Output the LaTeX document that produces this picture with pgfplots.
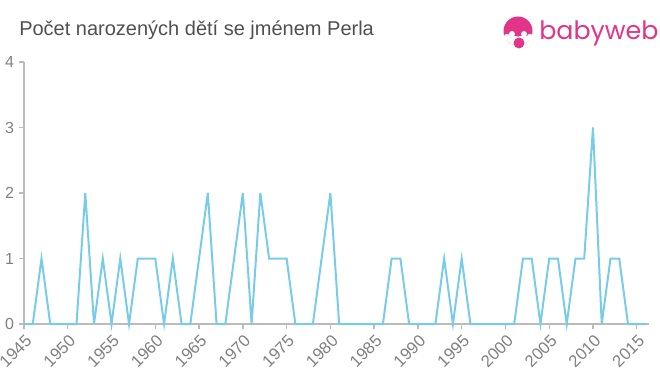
\documentclass[border=0pt]{standalone}
\usepackage{pgfplots}
\pgfplotsset{compat=1.18}
\usepackage{fontspec}
\setmainfont{Liberation Sans}
\newfontfamily\logofont{Poppins}
\definecolor{linec}{RGB}{120,204,234}
\definecolor{axc}{RGB}{187,187,187}
\definecolor{labc}{RGB}{128,128,128}
\definecolor{titc}{RGB}{80,80,80}
\definecolor{pinkc}{RGB}{226,52,136}
\begin{document}
\begin{tikzpicture}
\begin{scope}[x=0.75pt,y=0.75pt]
\node[anchor=west, text=titc, font=\fontsize{15}{17}\selectfont, inner sep=0pt] at (19,345) {Počet narozených dětí se jménem Perla};
% logo
\fill[pinkc] (518,344) circle (14.5);
\begin{scope}
\clip (518,344) circle (14.5);
\fill[white] (500,320) rectangle (540,339);
\fill[white] (512,341) circle (3);
\fill[white] (524,341) circle (3);
\end{scope}
\fill[white] (507,338) circle (3.2);
\fill[white] (530,338) circle (3.2);
\fill[pinkc] (518,340.5) circle (2.2);
\fill[pinkc] (519,332) circle (5.5);
\node[anchor=west, text=pinkc, font=\logofont\fontsize{19}{20}\selectfont, inner sep=0pt] at (539,342) {babyweb};
\end{scope}
\begin{axis}[
  at={(18pt,38.25pt)}, anchor=south west,
  scale only axis, width=468.75pt, height=196.5pt,
  xmin=1945, xmax=2016.4, ymin=0, ymax=4,
  axis lines=left,
  axis line style={axc, line width=1.1pt, -},
  tick style={axc, line width=1pt},
  major tick length=4pt, tick align=outside,
  xtick={1945,1950,...,2015}, ytick={0,1,2,3,4},
  /pgf/number format/1000 sep={},
  /pgf/number format/assume math mode=true,
  xticklabel style={rotate=45, anchor=north east, text=labc, font=\fontsize{12.5}{12}\selectfont, inner sep=1pt, xshift=-1pt, yshift=-1.5pt},
  yticklabel style={text=labc, font=\fontsize{12}{12}\selectfont},
  clip=false,
]
\addplot[linec, line width=1.5pt, mark=none] coordinates {
(1945,0)(1946,0)(1947,1)(1948,0)(1949,0)(1950,0)(1951,0)(1952,2)(1953,0)(1954,1)
(1955,0)(1956,1)(1957,0)(1958,1)(1959,1)(1960,1)(1961,0)(1962,1)(1963,0)(1964,0)
(1965,1)(1966,2)(1967,0)(1968,0)(1969,1)(1970,2)(1971,0)(1972,2)(1973,1)(1974,1)
(1975,1)(1976,0)(1977,0)(1978,0)(1979,1)(1980,2)(1981,0)(1982,0)(1983,0)(1984,0)
(1985,0)(1986,0)(1987,1)(1988,1)(1989,0)(1990,0)(1991,0)(1992,0)(1993,1)(1994,0)
(1995,1)(1996,0)(1997,0)(1998,0)(1999,0)(2000,0)(2001,0)(2002,1)(2003,1)(2004,0)
(2005,1)(2006,1)(2007,0)(2008,1)(2009,1)(2010,3)(2011,0)(2012,1)(2013,1)(2014,0)
(2015,0)(2016,0)
};
\end{axis}
\pgfresetboundingbox
\path[use as bounding box] (0,0) rectangle (495pt,281.25pt);
\end{tikzpicture}
\end{document}
